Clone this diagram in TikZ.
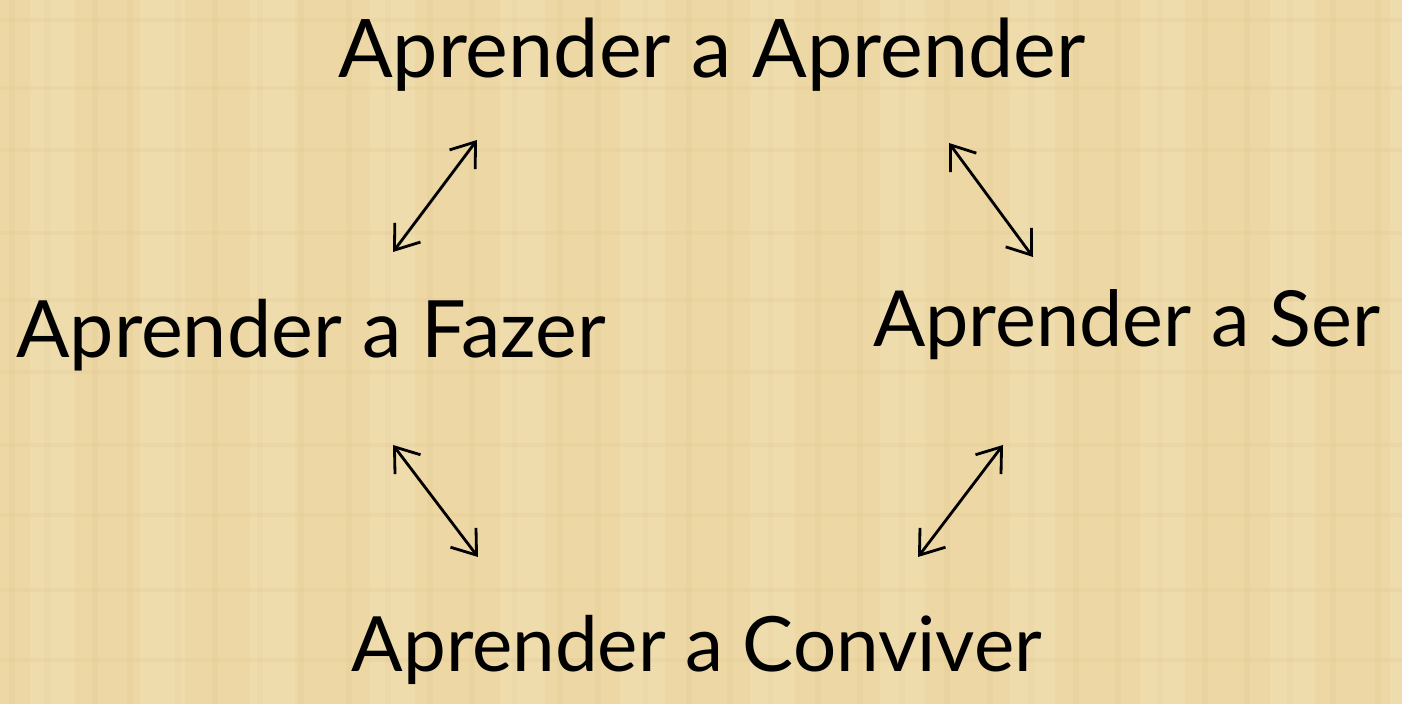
\documentclass[tikz,border=0pt]{standalone}
\usepackage{fontspec}
\setmainfont{Lato}
\usetikzlibrary{arrows.meta}

\definecolor{papiro}{RGB}{237,216,165}
\definecolor{papirofio}{RGB}{226,200,145}
\definecolor{papiroclaro}{RGB}{245,228,190}
\tikzset{
  pilar/.style={font=\fontsize{22}{26}\selectfont, inner sep=0pt},
  elo/.style={<->, line width=0.8pt}
}

\begin{document}
\begin{tikzpicture}[x=0.01cm,y=-0.01cm,>={Straight Barb[length=2.2mm,width=3.2mm]}]
\fill[papiro] (0,0) rectangle (1402,704);
\useasboundingbox (0,0) rectangle (1402,704);
% texture of the paper
\foreach \i in {12,47,95,130,178,215,260,301,349,388,430,472,515,560,598,645,689,730,771,818,860,902,947,990,1031,1076,1118,1160,1205,1247,1290,1333,1378}
  \draw[papirofio, line width=1.5pt, opacity=0.3] (\i,0) -- (\i,704);
\foreach \i in {30,140,250,370,500,620,750,880,1010,1140,1270,1390}
  \fill[papiroclaro, opacity=0.35] (\i,0) rectangle +(45,704);
\foreach \j in {20,88,150,233,300,372,445,515,590,660}
  \draw[papirofio, line width=1.2pt, opacity=0.25] (0,\j) -- (1402,\j);

\node[pilar, font=\fontsize{23}{27}\selectfont] (aprender) at (712,55) {Aprender a Aprender};
\node[pilar, font=\fontsize{22.5}{27}\selectfont] (fazer) at (311,335) {Aprender a Fazer};
\node[pilar] (ser) at (1127,325) {Aprender a Ser};
\node[pilar, font=\fontsize{21.7}{26}\selectfont] (conviver) at (697,650) {Aprender a Conviver};

\coordinate (af1) at (477,140);
\coordinate (af2) at (393,252);
\coordinate (as1) at (949,143);
\coordinate (as2) at (1033,257);
\coordinate (fc1) at (393,445);
\coordinate (fc2) at (478,557);
\coordinate (sc1) at (1003,445);
\coordinate (sc2) at (918,557);

\draw[elo] (af1) -- (af2);
\draw[elo] (as1) -- (as2);
\draw[elo] (fc1) -- (fc2);
\draw[elo] (sc1) -- (sc2);

\end{tikzpicture}
\end{document}
